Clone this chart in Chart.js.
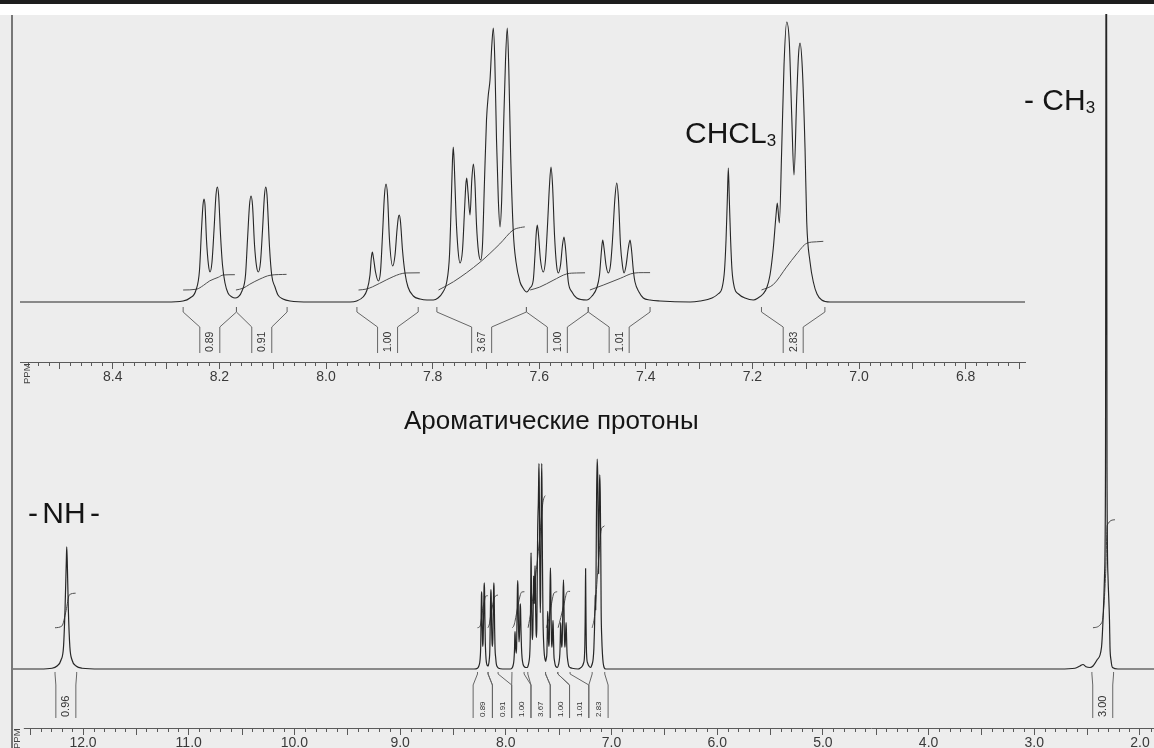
<!DOCTYPE html>
<html lang="ru">
<head>
<meta charset="utf-8">
<title>¹H ЯМР спектр</title>
<script src="https://cdn.jsdelivr.net/npm/chart.js@4.4.1/dist/chart.umd.min.js"></script>
<style>
  html, body { margin: 0; padding: 0; }
  body { width: 1154px; height: 748px; overflow: hidden; position: relative; background: #ffffff;
         font-family: "Liberation Sans", Arial, sans-serif; }
  #rule { position: absolute; left: 0; top: 0; width: 1154px; height: 4px; background: #1e1e1e; }
  #panel { position: absolute; left: 0; top: 15px; width: 1154px; height: 733px; background: #ededed; }
  canvas { position: absolute; left: 0; top: 0; }
  .note { position: absolute; white-space: nowrap; line-height: 1; color: #151515; }
  .note sub { font-size: 17px; vertical-align: -3px; line-height: 0; }
</style>
</head>
<body>
<div id="rule"></div>
<div id="panel"></div>
<canvas id="full" width="1154" height="751"></canvas>
<canvas id="zoom" width="1154" height="385"></canvas>
<div class="note" style="left:685px; top:118px; font-size:30px">CHCL<sub>3</sub></div>
<div class="note" style="left:1024px; top:85px; font-size:30px">- CH<sub>3</sub></div>
<div class="note" style="left:28px; top:498px; font-size:30px; word-spacing:-4px">- NH -</div>
<div class="note" style="left:404px; top:407px; font-size:26px">Ароматические протоны</div>

<script>
// ---------- spectrum: chemical shift (ppm) and intensity ----------
// aromatic region 8.30 … 7.05 ppm (multiplets, CHCl3 line)
const aromaticPpm = [
  8.3002, 8.2683, 8.2552, 8.2439, 8.2373, 8.2336, 8.2308, 8.2289, 8.2270, 8.2242,
  8.2205, 8.2176, 8.2139, 8.2101, 8.2064, 8.2039, 8.2015, 8.1979, 8.1942, 8.1895,
  8.1839, 8.1764, 8.1707, 8.1651, 8.1576, 8.1510, 8.1473, 8.1435, 8.1407, 8.1379,
  8.1341, 8.1304, 8.1270, 8.1229, 8.1191, 8.1154, 8.1131, 8.1107, 8.1060, 8.1019,
  8.0957, 8.0901, 8.0807, 8.0675, 8.0300, 7.9550,
  7.9424, 7.9306, 7.9231, 7.9175, 7.9150, 7.9131, 7.9109, 7.9071, 7.9019, 7.8978,
  7.8940, 7.8903, 7.8874, 7.8846, 7.8809, 7.8749, 7.8705, 7.8668, 7.8644, 7.8625,
  7.8602, 7.8565, 7.8518, 7.8462, 7.8362, 7.8236, 7.8105, 7.7987,
  7.7899, 7.7805, 7.7735, 7.7683, 7.7649, 7.7627, 7.7612, 7.7593, 7.7561, 7.7523,
  7.7486, 7.7439, 7.7401, 7.7377, 7.7360, 7.7336, 7.7298, 7.7265, 7.7236, 7.7208,
  7.7176, 7.7139, 7.7098, 7.7064, 7.7026, 7.6989, 7.6955, 7.6923, 7.6889, 7.6861,
  7.6833, 7.6801, 7.6767, 7.6735, 7.6704, 7.6670, 7.6632, 7.6599, 7.6570, 7.6538,
  7.6486, 7.6435, 7.6360, 7.6304, 7.6235,
  7.6173, 7.6111, 7.6079, 7.6054, 7.6036, 7.6013, 7.5976, 7.5923, 7.5882, 7.5844,
  7.5807, 7.5779, 7.5750, 7.5713, 7.5675, 7.5642, 7.5600, 7.5563, 7.5535, 7.5507,
  7.5454, 7.5385, 7.5296, 7.5109,
  7.5009, 7.4921, 7.4869, 7.4831, 7.4809, 7.4784, 7.4747, 7.4704, 7.4662, 7.4625,
  7.4582, 7.4546, 7.4512, 7.4475, 7.4437, 7.4409, 7.4372, 7.4328, 7.4296, 7.4268,
  7.4231, 7.4203, 7.4128, 7.4047, 7.3921, 7.3734, 7.3170,
  7.2983, 7.2758, 7.2645, 7.2570, 7.2523, 7.2495, 7.2471, 7.2452, 7.2433, 7.2409,
  7.2383, 7.2336, 7.2261, 7.2139, 7.1983,
  7.1895, 7.1801, 7.1732, 7.1670, 7.1608, 7.1557, 7.1533, 7.1495, 7.1450, 7.1407,
  7.1357, 7.1308, 7.1263, 7.1220, 7.1169, 7.1135, 7.1107, 7.1064, 7.1013, 7.0981,
  7.0919, 7.0857, 7.0788, 7.0700, 7.0544
];
const aromaticIntensity = [
  0, 1, 4, 12, 32, 72, 97, 103, 97, 62,
  37, 30, 40, 72, 107, 115, 107, 67, 37, 19,
  9, 5, 4, 5, 11, 27, 62, 97, 106, 97,
  57, 36, 30, 40, 72, 107, 115, 107, 55, 27,
  15, 7, 3, 1, 0, 0,
  1, 5, 12, 27, 44, 50, 44, 30, 21, 30,
  67, 107, 118, 107, 62, 36, 47, 72, 84, 87,
  80, 52, 29, 15, 6, 3, 2, 2,
  4, 10, 20, 47, 102, 142, 155, 137, 87, 52,
  39, 52, 92, 117, 124, 110, 87, 122, 138, 122,
  77, 50, 42, 57, 122, 182, 207, 222, 257, 274,
  242, 162, 102, 75, 102, 172, 242, 274, 232, 152,
  70, 40, 20, 14, 10,
  14, 22, 47, 70, 77, 67, 42, 30, 42, 77,
  117, 135, 117, 67, 37, 29, 37, 57, 65, 54,
  20, 10, 4, 2,
  6, 14, 27, 52, 62, 54, 37, 29, 37, 62,
  102, 119, 102, 57, 36, 29, 36, 54, 62, 52,
  30, 20, 10, 4, 2, 1, 0,
  1, 4, 8, 14, 32, 62, 102, 134, 102, 62,
  32, 14, 8, 4, 2,
  4, 8, 14, 27, 54, 87, 99, 79, 154, 237,
  280, 260, 187, 127, 204, 247, 259, 234, 154, 80,
  40, 20, 8, 2, 0
];
// NH singlet near 12.15 ppm
const nhPpm = [12.4068, 12.2932, 12.2459, 12.2081, 12.1844, 12.1702, 12.1579, 12.1542,
               12.1494, 12.1390, 12.1248, 12.1040, 12.0662, 12.0094, 11.8391];
const nhIntensity = [0, 1, 4, 12, 30, 80, 145, 163, 145, 80, 30, 12, 4, 1, 0];
// CH3 singlet near 2.32 ppm (runs off the top of the plot)
const methylPpm = [2.7569, 2.6150, 2.5676, 2.5393, 2.5109, 2.4730, 2.4447, 2.4068, 2.3642, 2.3500,
                   2.3359, 2.3264, 2.3188, 2.3122, 2.3027, 2.2886, 2.2838, 2.2744, 2.2602, 2.2081];
const methylIntensity = [0, 1, 4, 6, 3, 2, 4, 12, 29, 65, 123, 269, 1300, 269, 123, 65, 29, 12, 2, 0];

// ---------- integrals (number of protons) ----------
const integralValues = [0.89, 0.91, 1.00, 3.67, 1.00, 1.01, 2.83];
const integralFrom   = [8.268, 8.168, 7.942, 7.792, 7.624, 7.508, 7.183];
const integralTo     = [8.168, 8.073, 7.827, 7.624, 7.508, 7.392, 7.064];
const integralTracePpm = [
  [8.268, 8.243, 8.230, 8.218, 8.202, 8.193, 8.171],
  [8.169, 8.155, 8.143, 8.124, 8.105, 8.074],
  [7.939, 7.925, 7.913, 7.886, 7.862, 7.850, 7.824],
  [7.789, 7.761, 7.711, 7.674, 7.649, 7.635, 7.627],
  [7.617, 7.599, 7.574, 7.548, 7.530, 7.514],
  [7.505, 7.480, 7.448, 7.423, 7.405, 7.392],
  [7.183, 7.161, 7.136, 7.117, 7.098, 7.080, 7.067]
];
const integralTraceShare = [
  [0, 0.05, 0.30, 0.60, 0.83, 0.98, 1],
  [0, 0.12, 0.37, 0.70, 0.94, 1],
  [0, 0.05, 0.18, 0.60, 0.92, 0.99, 1],
  [0, 0.13, 0.44, 0.73, 0.95, 0.99, 1],
  [0, 0.17, 0.56, 0.94, 0.99, 1],
  [0, 0.28, 0.67, 0.97, 1, 1],
  [0, 0.11, 0.47, 0.74, 0.96, 0.99, 1]
];
const nhIntegralValue = 0.96;
const nhIntegralRange = [12.265, 12.06];
const nhTracePpm = [12.265, 12.20, 12.16, 12.13, 12.07];
const nhTraceShare = [0, 0.05, 0.5, 0.95, 1];
const methylIntegralValue = 3.00;
const methylIntegralRange = [2.455, 2.25];
const methylTracePpm = [2.445, 2.36, 2.325, 2.31, 2.237];
const methylTraceShare = [0, 0.05, 0.5, 0.95, 1];

// ---------- axes ----------
const fullTickValues = [12, 11, 10, 9, 8, 7, 6, 5, 4, 3, 2];
const fullTickLabels = ['12.0', '11.0', '10.0', '9.0', '8.0', '7.0', '6.0', '5.0', '4.0', '3.0', '2.0'];
const zoomTickValues = [8.4, 8.2, 8.0, 7.8, 7.6, 7.4, 7.2, 7.0, 6.8];
const zoomTickLabels = ['8.4', '8.2', '8.0', '7.8', '7.6', '7.4', '7.2', '7.0', '6.8'];
const fullRange = [12.672, 1.8675];
const zoomRange = [8.5741, 6.6886];

// ---------- helpers ----------
const toPoints = (xs, ys) => xs.map((x, i) => ({ x, y: ys[i] }));
const tracePoints = (ppm, share, value, base, perProton) =>
  ppm.map((p, i) => ({ x: p, y: base + share[i] * value * perProton }));

const LABEL_FONT = '"Liberation Sans", Arial, sans-serif';

function decorPlugin(cfg) {
  return {
    id: 'decor_' + cfg.name,
    afterDraw(chart) {
      const { ctx, chartArea: area } = chart;
      const xs = chart.scales.x, ys = chart.scales.y;
      const axisY = Math.round(area.bottom) + 0.5;

      ctx.save();
      if (cfg.frame) {
        ctx.strokeStyle = '#777';
        ctx.lineWidth = 2;
        ctx.beginPath();
        ctx.moveTo(area.left, area.top);
        ctx.lineTo(area.left, chart.height);
        ctx.stroke();
      }
      ctx.strokeStyle = '#5a5a5a';
      ctx.lineWidth = 1;
      if (cfg.axisFrom !== undefined) {
        ctx.beginPath();
        ctx.moveTo(xs.getPixelForValue(cfg.axisFrom), axisY);
        ctx.lineTo(area.right, axisY);
        ctx.stroke();
      }
      // unlabelled ticks
      const start = cfg.axisFrom !== undefined ? cfg.axisFrom : xs.max;
      const kHi = Math.floor(start / cfg.minorStep + 1e-6);
      const kLo = Math.ceil(xs.min / cfg.minorStep - 1e-6);
      ctx.beginPath();
      for (let k = kHi; k >= kLo; k--) {
        const v = k * cfg.minorStep;
        if (cfg.tickValues.some(t => Math.abs(t - v) < 1e-6)) continue;
        const r = v / cfg.majorStep;
        const len = Math.abs(r - Math.round(r)) < 1e-6 ? 7 : 4;
        const px = Math.round(xs.getPixelForValue(v)) + 0.5;
        ctx.moveTo(px, area.bottom);
        ctx.lineTo(px, area.bottom + len);
      }
      ctx.stroke();
      // unit label
      ctx.fillStyle = '#444';
      ctx.font = '9.5px ' + LABEL_FONT;
      ctx.translate(area.left + cfg.unitDx, cfg.unitY);
      ctx.rotate(-Math.PI / 2);
      ctx.textAlign = 'left';
      ctx.textBaseline = 'middle';
      ctx.fillText('PPM', 0, 0);
      ctx.restore();

      // integral brackets with their values
      const yb = ys.getPixelForValue(0);
      const regs = cfg.regions;
      const mids = regs.map(r => xs.getPixelForValue((r.from + r.to) / 2));
      const centers = mids.slice();
      const halves = mids.map(() => cfg.colHalf);
      let i = 0;
      while (i < mids.length) {
        let j = i;
        while (j + 1 < mids.length && mids[j + 1] - mids[j] < cfg.clusterGap) j++;
        if (j > i) {
          const step = (mids[j] - mids[i]) / (j - i);
          for (let k = i; k <= j; k++) {
            centers[k] = mids[i] + step * (k - i);
            halves[k] = Math.min(cfg.colHalf, step / 2);
          }
        }
        i = j + 1;
      }
      ctx.save();
      ctx.strokeStyle = '#666';
      ctx.lineWidth = 1;
      ctx.beginPath();
      regs.forEach((r, k) => {
        const c = centers[k], h = halves[k];
        [[r.from, -h], [r.to, h]].forEach(([p, dx]) => {
          const xe = xs.getPixelForValue(p);
          ctx.moveTo(xe, yb + cfg.top);
          ctx.lineTo(xe, yb + cfg.stub);
          ctx.lineTo(c + dx, yb + cfg.knee);
          ctx.lineTo(c + dx, yb + cfg.bottom);
        });
      });
      ctx.stroke();
      ctx.fillStyle = '#333';
      ctx.textAlign = 'left';
      ctx.textBaseline = 'middle';
      regs.forEach((r, k) => {
        const size = halves[k] < cfg.colHalf ? cfg.smallFont : cfg.font;
        ctx.save();
        ctx.font = size + 'px ' + LABEL_FONT;
        ctx.translate(centers[k] + 0.5, yb + cfg.bottom - 1);
        ctx.rotate(-Math.PI / 2);
        ctx.fillText(r.value.toFixed(2), 0, 0);
        ctx.restore();
      });
      ctx.restore();
    }
  };
}

function spectrumChart(canvasId, cfg) {
  return new Chart(document.getElementById(canvasId), {
    type: 'line',
    data: { datasets: cfg.datasets },
    options: {
      responsive: false,
      animation: false,
      devicePixelRatio: 1,
      events: [],
      layout: { padding: { left: cfg.left, right: cfg.right, top: 15, bottom: 0 } },
      elements: {
        point: { radius: 0 },
        line: { cubicInterpolationMode: 'monotone', borderJoinStyle: 'round', fill: false }
      },
      plugins: { legend: { display: false }, tooltip: { enabled: false } },
      scales: {
        x: {
          type: 'linear', reverse: true, min: cfg.range[1], max: cfg.range[0],
          afterBuildTicks: s => { s.ticks = cfg.tickValues.map(v => ({ value: v })); },
          grid: { display: true, drawOnChartArea: false, drawTicks: true, tickLength: 7, color: '#5a5a5a', lineWidth: 1 },
          border: { display: cfg.nativeBorder, color: '#5a5a5a', width: 1 },
          ticks: {
            autoSkip: false, maxRotation: 0, minRotation: 0, padding: 1, color: '#3a3a3a',
            font: { family: 'Liberation Sans', size: 14, lineHeight: 1 },
            callback: v => cfg.tickLabels[cfg.tickValues.indexOf(v)]
          }
        },
        y: { type: 'linear', display: false, min: cfg.yMin, max: cfg.yMax }
      }
    },
    plugins: [decorPlugin(cfg.decor)]
  });
}

const aromaticRegions = integralValues.map((v, i) => ({ from: integralFrom[i], to: integralTo[i], value: v }));
const lineStyle = { borderColor: '#262626', borderWidth: 1.2, clip: 1 };
const traceStyle = { borderColor: '#4e4e4e', borderWidth: 1, clip: 1 };

// ---------- full spectrum, 12.7 … 1.9 ppm ----------
const FULL_BASE = 55, FULL_PER_H = 48;
const fullDatasets = [
  Object.assign({
    data: toPoints(
      [fullRange[0], ...nhPpm, ...aromaticPpm, ...methylPpm, fullRange[1]],
      [0, ...nhIntensity, ...aromaticIntensity, ...methylIntensity, 0])
  }, lineStyle),
  Object.assign({ data: tracePoints(nhTracePpm, nhTraceShare, nhIntegralValue, FULL_BASE, FULL_PER_H) }, traceStyle),
  ...integralTracePpm.map((p, i) => Object.assign({
    data: tracePoints(p, integralTraceShare[i], integralValues[i], FULL_BASE, FULL_PER_H)
  }, traceStyle)),
  Object.assign({ data: tracePoints(methylTracePpm, methylTraceShare, methylIntegralValue, FULL_BASE, FULL_PER_H) }, traceStyle)
];

spectrumChart('full', {
  datasets: fullDatasets,
  range: fullRange, left: 12, right: 0,
  yMin: -78.67, yMax: 872,
  tickValues: fullTickValues, tickLabels: fullTickLabels,
  nativeBorder: false,
  decor: {
    name: 'full', frame: true, axisFrom: 12.56, minorStep: 0.1, majorStep: 0.5,
    tickValues: fullTickValues, unitDx: 5.5, unitY: 749,
    regions: [
      { from: nhIntegralRange[0], to: nhIntegralRange[1], value: nhIntegralValue },
      ...aromaticRegions,
      { from: methylIntegralRange[0], to: methylIntegralRange[1], value: methylIntegralValue }
    ],
    top: 3, stub: 5, knee: 16, bottom: 49, colHalf: 10, clusterGap: 40, font: 11, smallFont: 8
  }
});

// ---------- expanded aromatic region, 8.57 … 6.69 ppm ----------
const ZOOM_BASE = 12, ZOOM_PER_H = 17.2;
const zoomDatasets = [
  Object.assign({
    data: toPoints([zoomRange[0], ...aromaticPpm, zoomRange[1]], [0, ...aromaticIntensity, 0])
  }, lineStyle, { borderWidth: 1.1 }),
  ...integralTracePpm.map((p, i) => Object.assign({
    data: tracePoints(p, integralTraceShare[i], integralValues[i], ZOOM_BASE, ZOOM_PER_H)
  }, traceStyle))
];

spectrumChart('zoom', {
  datasets: zoomDatasets,
  range: zoomRange, left: 20, right: 129,
  yMin: -60, yMax: 287,
  tickValues: zoomTickValues, tickLabels: zoomTickLabels,
  nativeBorder: true,
  decor: {
    name: 'zoom', frame: false, minorStep: 0.02, majorStep: 0.1,
    tickValues: zoomTickValues, unitDx: 7, unitY: 384,
    regions: aromaticRegions,
    top: 5, stub: 10, knee: 25, bottom: 51, colHalf: 10, clusterGap: 40, font: 10.5, smallFont: 10.5
  }
});
</script>
</body>
</html>
